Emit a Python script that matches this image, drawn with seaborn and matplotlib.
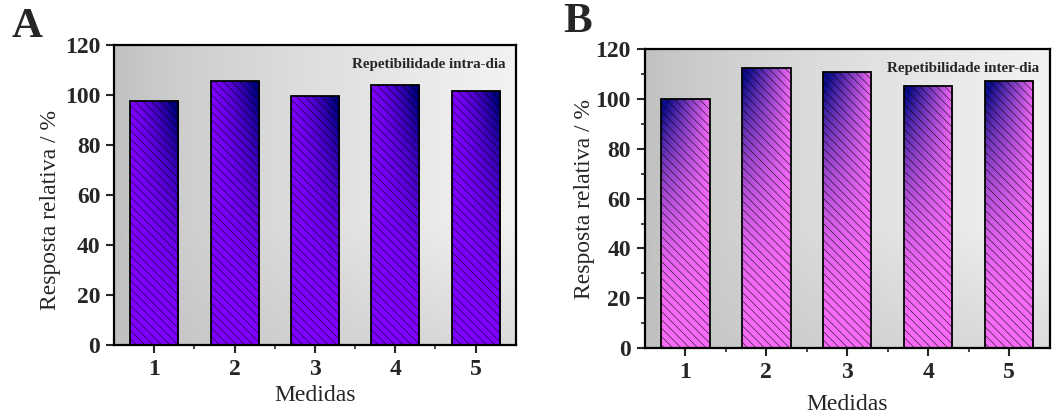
import numpy as np
import pandas as pd
import matplotlib
matplotlib.use("Agg")
import matplotlib.pyplot as plt
from matplotlib.ticker import MultipleLocator, FixedLocator, NullLocator
import seaborn as sns

# --- dados ---
medidas = ["1", "2", "3", "4", "5"]
intra_dia = [97.7, 105.7, 99.7, 103.9, 101.6]
inter_dia = [100.0, 112.6, 110.7, 105.0, 107.2]

sns.set_style("ticks")
plt.rcParams['font.family'] = ['Liberation Serif', 'DejaVu Serif']
plt.rcParams['hatch.linewidth'] = 0.35
plt.rcParams['axes.unicode_minus'] = False


def background(ax):
    # fundo cinza em degradê (tipo Origin)
    xx, yy = np.meshgrid(np.linspace(0, 1, 200), np.linspace(0, 1, 200))
    band = 0.55 + 0.45 * np.clip(yy / 0.4, 0, 1)
    g = 0.75 + 0.20 * (xx ** 0.7) * band
    g = np.clip(g, 0, 1)
    img = np.dstack([g, g, g])
    ax.imshow(img, extent=[0, 1, 0, 1], transform=ax.transAxes, origin='lower',
              aspect='auto', zorder=0, interpolation='bilinear')


def gradient_bars(ax, c_light, c_dark, mode):
    for p in ax.patches:
        x0, y0 = p.get_x(), p.get_y()
        w, h = p.get_width(), p.get_height()
        xx, yy = np.meshgrid(np.linspace(0, 1, 60), np.linspace(0, 1, 200))
        if mode == 'A':
            t = np.clip(1.2 * (xx ** 1.4) * (yy ** 2.0), 0, 1)
        else:
            t = np.clip(1.15 * ((1 - xx) ** 0.9) * (yy ** 2.3), 0, 1)
        c1 = np.array(c_light)
        c2 = np.array(c_dark)
        img = c1[None, None, :] * (1 - t[..., None]) + c2[None, None, :] * t[..., None]
        im = ax.imshow(img, extent=[x0, x0 + w, y0, y0 + h], origin='lower',
                       aspect='auto', zorder=2, interpolation='bilinear')
        im.set_clip_path(p)
        p.set_facecolor('none')
        p.set_edgecolor('black')
        p.set_hatch('\\\\\\\\')
        p.set_linewidth(1.3)
        p.set_zorder(3)


def painel(ax, valores, c_light, c_dark, mode, texto, letra, letra_xy, y_minor,
           xlabelpad, ylabel_xy):
    df = pd.DataFrame({'Medidas': medidas, 'Resposta': valores})
    sns.barplot(data=df, x='Medidas', y='Resposta', width=0.6, color='white',
                ax=ax, zorder=3)
    background(ax)
    gradient_bars(ax, c_light, c_dark, mode)
    ax.set_xlim(-0.5, 4.5)
    ax.set_ylim(0, 120)
    ax.yaxis.set_major_locator(MultipleLocator(20))
    if y_minor:
        ax.yaxis.set_minor_locator(MultipleLocator(10))
    else:
        ax.yaxis.set_minor_locator(NullLocator())
    ax.xaxis.set_minor_locator(FixedLocator([0.5, 1.5, 2.5, 3.5]))
    ax.tick_params(which='major', direction='out', length=6, width=1.5,
                   labelsize=17, top=False, right=False, pad=4)
    ax.tick_params(which='minor', direction='out', length=3, width=1.2,
                   top=False, right=False)
    for lab in ax.get_xticklabels() + ax.get_yticklabels():
        lab.set_fontweight('bold')
    for s in ax.spines.values():
        s.set_visible(True)
        s.set_linewidth(1.6)
        s.set_color('black')
    ax.set_xlabel('Medidas', fontsize=17, labelpad=xlabelpad)
    ax.set_ylabel('Resposta relativa / %', fontsize=17, labelpad=5)
    ax.yaxis.set_label_coords(*ylabel_xy)
    ax.text(0.975, 0.935, texto, transform=ax.transAxes, ha='right', va='center',
            fontsize=10.8, fontweight='bold', zorder=5)
    ax.figure.text(letra_xy[0], letra_xy[1], letra, fontsize=31, fontweight='bold',
                   ha='center', va='center')


fig = plt.figure(figsize=(10.57, 4.16), dpi=100)
fig.patch.set_facecolor('white')
axA = fig.add_axes([0.108, 0.171, 0.380, 0.721])
axB = fig.add_axes([0.610, 0.163, 0.383, 0.719])

painel(axA, intra_dia, (0.50, 0.0, 1.0), (0.0, 0.0, 0.50), 'A',
       'Repetibilidade intra-dia', 'A', (27 / 1057, 1 - 27 / 416), False,
       4, (-0.132, 0.45))
painel(axB, inter_dia, (0.97, 0.42, 0.97), (0.05, 0.05, 0.55), 'B',
       'Repetibilidade inter-dia', 'B', (578 / 1057, 1 - 22 / 416), True,
       8, (-0.122, 0.5))

fig.savefig('out.png', dpi=100)
